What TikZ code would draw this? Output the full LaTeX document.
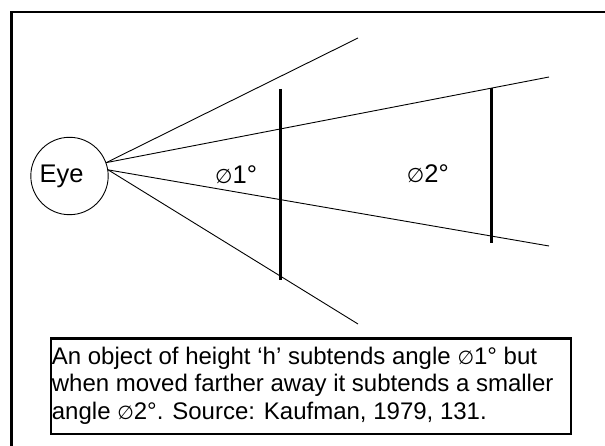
\documentclass[tikz,border=0pt]{standalone}
\usepackage{fontspec}
\setmainfont{Liberation Sans}
\newfontfamily\symfont{DejaVu Sans}
\newcommand{\angsym}{{\symfont\fontsize{19}{19}\selectfont ∅}}
\newcommand{\angsymL}{{\symfont\fontsize{20}{20}\selectfont ∅}}
\begin{document}
\begin{tikzpicture}[x=1pt,y=-1pt,
  ray/.style={line width=0.9pt},
  bar/.style={line width=2.8pt},
  txt/.style={inner sep=0pt, anchor=base west, font=\fontsize{24}{27.6}\selectfont},
  bigtxt/.style={inner sep=0pt, anchor=base west, font=\fontsize{25.5}{29}\selectfont},
]
\useasboundingbox (0,0) rectangle (605,446);
\clip (0,0) rectangle (605,446);
% outer frame
\draw[line width=2.5pt] (11.5,470) -- (11.5,12) -- (630,12);
% eye
\node[circle,draw,line width=0.9pt,minimum size=77.4pt,inner sep=0pt] (eye) at (69.5,176) {};
\node[bigtxt] (eyetext) at (39.3,182.3) {Eye};
% ray ends
\coordinate (e1) at (358,38);
\coordinate (e2) at (549,77);
\coordinate (e3) at (549,246);
\coordinate (e4) at (358,324);
\draw[ray] (eye.20) -- (e1);
\draw[ray] (eye.20) -- (e2);
\draw[ray] (eye.9) -- (e3);
\draw[ray] (eye.9) -- (e4);
% objects
\coordinate (b1t) at (280.7,89);
\coordinate (b1b) at (280.7,280);
\coordinate (b2t) at (491.5,88.3);
\coordinate (b2b) at (491.5,242.7);
\draw[bar] (b1t) -- (b1b);
\draw[bar] (b2t) -- (b2b);
% angle labels
\node[bigtxt] (a1) at (215,184) {\angsymL1°};
\node[bigtxt] (a2) at (406.7,183) {\angsymL2°};
% caption
\node[draw,line width=2.5pt,anchor=north west,inner sep=0pt,minimum width=520pt,minimum height=95.5pt] (capbox) at (49.5,337.3) {};
\node[txt] (cap1) at (51.7,364) {An object of height ‘h’ subtends angle \angsym1° but};
\node[txt] (cap2) at (51.7,391.7) {when moved farther away it subtends a smaller};
\node[txt] (cap3) at (51.7,419.3) {angle \angsym2°. Source: Kaufman, 1979, 131.};
\end{tikzpicture}
\end{document}
